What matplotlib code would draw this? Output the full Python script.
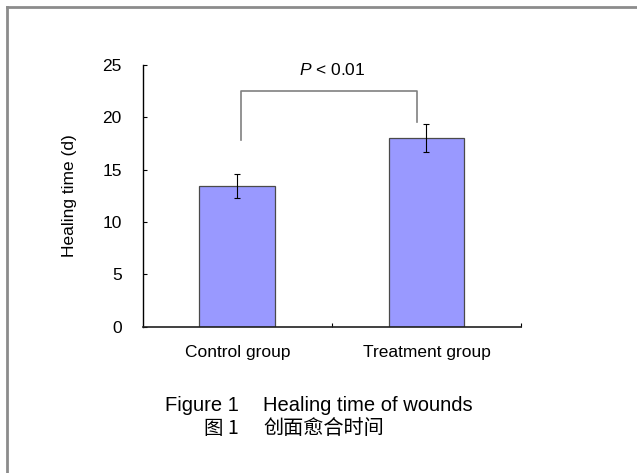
import numpy as np
import matplotlib.pyplot as plt
from matplotlib.lines import Line2D

plt.rcParams['font.family'] = ['Liberation Sans', 'DejaVu Sans']
plt.rcParams['mathtext.fontset'] = 'custom'
plt.rcParams['mathtext.it'] = 'Liberation Sans:italic'
plt.rcParams['mathtext.rm'] = 'Liberation Sans'

groups = ["Control group", "Treatment group"]
healing_days = [13.45, 18.05]
healing_sd = [1.15, 1.35]
yticks = [0, 5, 10, 15, 20, 25]

fig = plt.figure(figsize=(6.37, 4.73), dpi=100)
ax = fig.add_axes([0.224, 0.309, 0.594, 0.5536])

x = np.arange(len(groups))
ax.bar(x, healing_days, width=0.4, color='#9999ff', edgecolor='#4a4a4a', linewidth=0.9, zorder=2)
ax.errorbar(x, healing_days, yerr=healing_sd, fmt='none', ecolor='black',
            elinewidth=0.8, capsize=2.5, capthick=0.8, zorder=3)

# significance bracket
ax.plot([0.02, 0.02, 0.95, 0.95], [17.8, 22.55, 22.55, 19.6], color='#808080', lw=1.2, zorder=1)
ax.text(0.5, 24.5, r'$\it{P}$ < 0.01', ha='center', va='center', fontsize=12.5)

ax.set_xlim(-0.5, 1.5)
ax.set_ylim(0, 25)
ax.set_yticks(yticks)
ax.set_xticks(x)
ax.set_xticklabels(groups, fontsize=12.5)
ax.set_xticks([0.5, 1.5], minor=True)
ax.tick_params(axis='x', which='major', length=0, pad=13)
ax.tick_params(axis='x', which='minor', direction='in', length=3, width=0.8)
ax.tick_params(axis='y', direction='in', length=3, width=0.8, pad=15, labelsize=12.5)
ax.set_ylabel('Healing time (d)', fontsize=12.5, labelpad=18.5)

for side in ['top', 'right']:
    ax.spines[side].set_visible(False)
ax.spines['left'].set_linewidth(1.0)
ax.spines['bottom'].set_linewidth(1.2)
ax.spines['bottom'].set_color('#202020')

# caption
fig.text(239 / 637, 1 - 405 / 473, 'Figure 1', ha='right', va='center', fontsize=14.5)
fig.text(263 / 637, 1 - 405 / 473, 'Healing time of wounds', ha='left', va='center', fontsize=14.5)
fig.text(239 / 637, 1 - 428 / 473, '图 1', ha='right', va='center', fontsize=14,
         family=['Noto Sans CJK SC', 'DejaVu Sans'])
fig.text(263 / 637, 1 - 428 / 473, '创面愈合时间', ha='left', va='center', fontsize=14.5,
         family=['Noto Sans CJK SC', 'DejaVu Sans'])

# frame edges (top and left)
fig.add_artist(Line2D([7 / 637, 1], [1 - 7 / 473, 1 - 7 / 473], color='#8c8c8c', lw=2))
fig.add_artist(Line2D([7 / 637, 7 / 637], [0, 1 - 7 / 473], color='#8c8c8c', lw=2))

fig.savefig('out.png', dpi=100)
plt.close(fig)
